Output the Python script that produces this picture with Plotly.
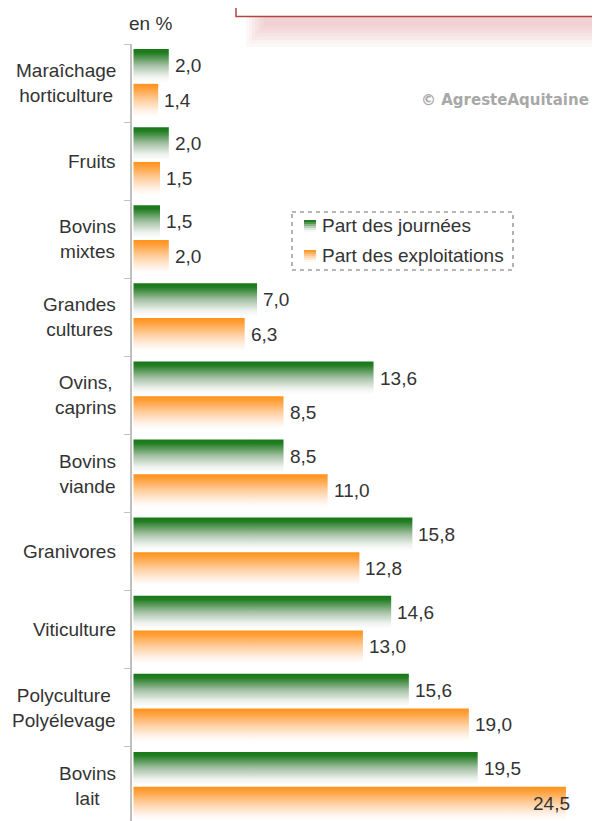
import plotly.graph_objects as go

# ---------------- data ----------------
categories = ["Maraîchage<br>horticulture", "Fruits", "Bovins<br>mixtes", "Grandes<br>cultures",
              "Ovins,<br>caprins", "Bovins<br>viande", "Granivores", "Viticulture",
              "Polyculture<br>Polyélevage", "Bovins<br>lait"]
part_journees = [2.0, 2.0, 1.5, 7.0, 13.6, 8.5, 15.8, 14.6, 15.6, 19.5]
part_exploitations = [1.4, 1.5, 2.0, 6.3, 8.5, 11.0, 12.8, 13.0, 19.0, 24.5]
series_names = ["Part des journées", "Part des exploitations"]
unit_label = "en %"
credit = "© AgresteAquitaine"

# ---------------- layout constants ----------------
OFF = 8  # page body margin of the html page
W, H = 600 - OFF, 821 - OFF
ML, MT = 132 - OFF, 44 - OFF
PW, PH = W - ML, H - MT
X0 = -0.085
XMAX = X0 + PW / 17.65
UNIT = 777 / 9.95  # pixels per category
Y_TOP = -0.5
Y_BOT = Y_TOP + PH / UNIT

FONT = "Liberation Sans, Arial, sans-serif"
TXT = "#333333"

green_scale = [[0, "#157815"], [0.12, "#247e24"], [0.5, "#a7c2a7"], [0.82, "#eef2ee"], [1, "#ffffff"]]
orange_scale = [[0, "#ff9318"], [0.12, "#ff9d35"], [0.5, "#ffcf9f"], [0.82, "#fff1e6"], [1, "#ffffff"]]

series = [
    (series_names[0], part_journees, green_scale, -0.435, -0.01),
    (series_names[1], part_exploitations, orange_scale, 0.01, 0.43),
]


def pxx(p):
    # p given in screenshot pixels
    return (p - OFF - ML) / PW


def pxy(p):
    return 1 - (p - OFF - MT) / PH


def fmt(v):
    return f"{v:.1f}".replace(".", ",")


fig = go.Figure()
annotations = []

for name, vals, scale, o0, o1 in series:
    for i, v in enumerate(vals):
        y0, y1 = i + o0, i + o1
        fig.add_trace(go.Scatter(
            x=[0, v, v, 0, 0], y=[y0, y0, y1, y1, y0],
            mode="lines", line=dict(width=0), fill="toself",
            fillgradient=dict(type="vertical", colorscale=scale, start=y0, stop=y1),
            hoverinfo="skip", showlegend=False))
        end_px = ML + (v - X0) / (XMAX - X0) * PW
        right = end_px > 532
        annotations.append(dict(
            x=v, y=(y0 + y1) / 2, xref="x", yref="y", text=fmt(v), showarrow=False,
            xanchor="right" if right else "left", xshift=6 if right else 4,
            font=dict(family=FONT, size=19, color=TXT)))

# category labels (centered lines, right-anchored block)
for i, c in enumerate(categories):
    annotations.append(dict(
        x=0, y=i, xref="paper", yref="y", text=c, showarrow=False,
        xanchor="right", xshift=-14, align="center",
        font=dict(family=FONT, size=19, color=TXT)))

# unit label
annotations.append(dict(x=pxx(127), y=pxy(23), xref="paper", yref="paper", text=unit_label,
                        showarrow=False, xanchor="left", yanchor="middle",
                        font=dict(family=FONT, size=19, color=TXT)))
# credit (kept fully inside the visible area)
annotations.append(dict(x=pxx(591), y=pxy(100), xref="paper", yref="paper", text="<b>" + credit + "</b>",
                        showarrow=False, xanchor="right", yanchor="middle",
                        font=dict(family="DejaVu Sans, Verdana, sans-serif", size=15, color="#a8a8a8")))

shapes = []
# shadow of top box
for k in range(7):
    shapes.append(dict(type="rect", xref="paper", yref="paper",
                       x0=pxx(246 + 3 * k), x1=pxx(620), y0=pxy(17), y1=pxy(47 - 3.5 * k),
                       line=dict(width=0), fillcolor="rgba(200,90,90,0.045)", layer="above"))
# top box (partially visible)
shapes.append(dict(type="rect", xref="paper", yref="paper",
                   x0=pxx(236), x1=pxx(640), y0=pxy(-20), y1=pxy(16.5),
                   line=dict(color="#b04545", width=1.5), fillcolor="white", layer="above"))

# legend (manual)
shapes.append(dict(type="rect", xref="paper", yref="paper",
                   x0=pxx(292), x1=pxx(513), y0=pxy(212), y1=pxy(270),
                   line=dict(color="#a0a0a0", width=1.6, dash="4px,4px"), fillcolor="white", layer="above"))
leg_rows = [(series_names[0], green_scale, 225), (series_names[1], orange_scale, 255)]


def interp(scale, t):
    for (a, ca), (b, cb) in zip(scale[:-1], scale[1:]):
        if a <= t <= b:
            f = (t - a) / (b - a) if b > a else 0
            ra = [int(ca[j:j + 2], 16) for j in (1, 3, 5)]
            rb = [int(cb[j:j + 2], 16) for j in (1, 3, 5)]
            r = [round(ra[m] + (rb[m] - ra[m]) * f) for m in range(3)]
            return f"rgb({r[0]},{r[1]},{r[2]})"
    return scale[-1][1]


for name, scale, cy in leg_rows:
    n = 6
    top = cy - 5
    for s in range(n):
        shapes.append(dict(type="rect", xref="paper", yref="paper",
                           x0=pxx(304), x1=pxx(316), y0=pxy(top + 2 * s), y1=pxy(top + 2 * s + 2),
                           line=dict(width=0), fillcolor=interp(scale, (s + 0.5) / n), layer="above"))
    annotations.append(dict(x=pxx(320), y=pxy(cy), xref="paper", yref="paper", text=name,
                            showarrow=False, xanchor="left", yanchor="middle",
                            font=dict(family=FONT, size=19, color=TXT)))

fig.update_layout(
    width=W, height=H, margin=dict(l=ML, r=0, t=MT, b=0, pad=0),
    paper_bgcolor="white", plot_bgcolor="white",
    showlegend=False,
    xaxis=dict(range=[X0, XMAX], visible=False, fixedrange=True),
    yaxis=dict(range=[Y_BOT, Y_TOP], tickmode="array",
               tickvals=[i - 0.5 for i in range(len(categories) + 1)],
               showticklabels=False, ticks="outside", ticklen=6, tickcolor="#c0c0c0", tickwidth=1,
               showline=True, linecolor="#c0c0c0", linewidth=1.5,
               showgrid=False, zeroline=False, fixedrange=True),
    annotations=annotations, shapes=shapes,
)

fig.write_html("out.html")
